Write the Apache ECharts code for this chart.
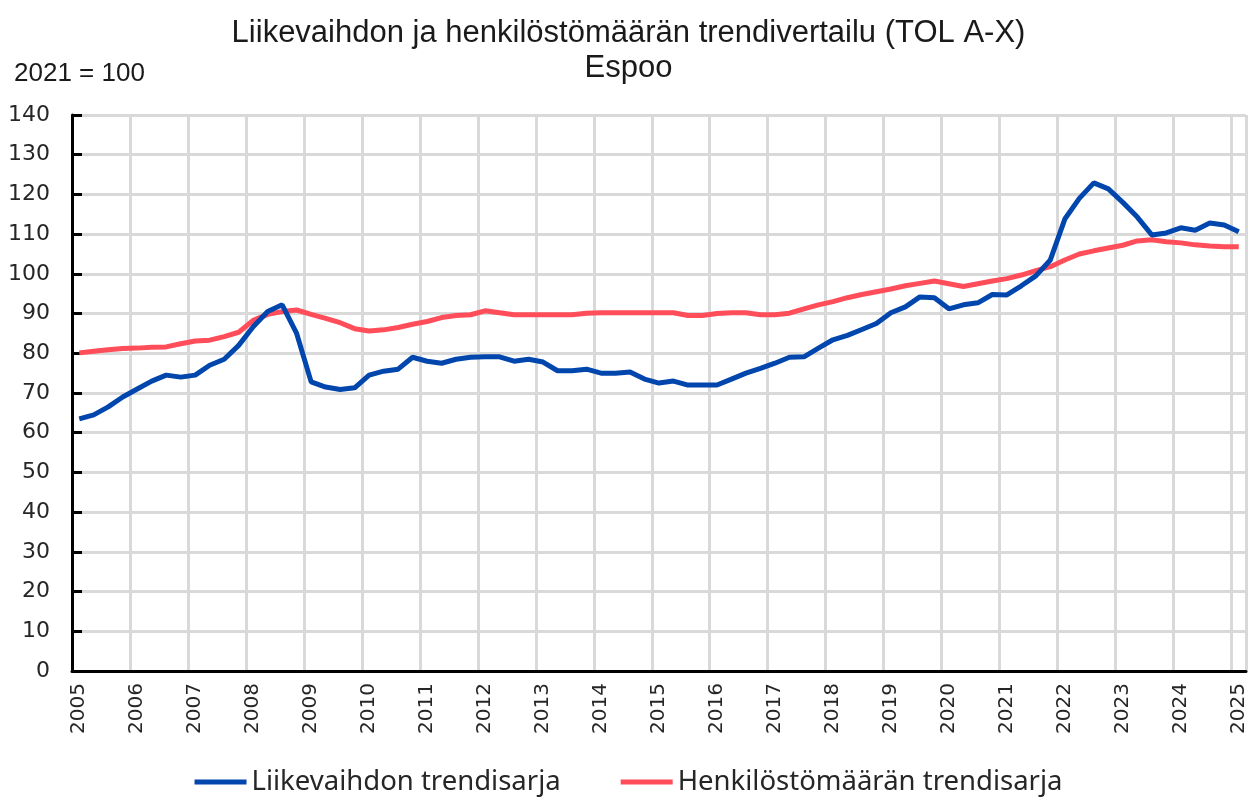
<!DOCTYPE html>
<html>
<head>
<meta charset="utf-8">
<script src="https://cdn.jsdelivr.net/npm/echarts@6/dist/echarts.min.js"></script>
<style>
    html, body { margin: 0; padding: 0; background: #fff; }
    #chart { width: 1257px; height: 801px; }
</style>
</head>
<body>
<div id="chart"></div>
<script>
// vuodet ja neljännekset 2005Q1 - 2025Q1
let years = []
for (let y = 2005; y <= 2025; y++) years.push(String(y))
let quarters = []
years.forEach(y => { ['Q1', 'Q2', 'Q3', 'Q4'].forEach(q => quarters.push(y + q)) })
quarters = quarters.slice(0, 81)

// Liikevaihdon trendisarja (2021 = 100)
let liikevaihto = [
    63.5, 64.5, 66.5, 69, 71, 73, 74.5, 74,
    74.5, 77, 78.5, 82, 86.7, 90.5, 92.2, 85,
    72.8, 71.5, 70.9, 71.3, 74.5, 75.5, 76, 79,
    78, 77.5, 78.5, 79, 79.1, 79.1, 78, 78.5,
    77.8, 75.6, 75.6, 76, 75, 75, 75.3, 73.5,
    72.5, 73, 72, 72, 72, 73.5, 75, 76.2,
    77.5, 79, 79.1, 81.3, 83.4, 84.5, 86, 87.5,
    90.2, 91.7, 94.2, 94, 91.2, 92.2, 92.7, 94.8,
    94.7, 97, 99.5, 103.5, 113.8, 119, 122.9, 121.4,
    118, 114.3, 109.8, 110.3, 111.6, 111, 112.8, 112.3,
    110.6
]
// Henkilöstömäärän trendisarja (2021 = 100)
let henkilosto = [
    80.1, 80.5, 80.9, 81.2, 81.3, 81.5, 81.6, 82.4,
    83.1, 83.3, 84.2, 85.3, 88.3, 89.8, 90.5, 90.9,
    89.8, 88.8, 87.7, 86.2, 85.6, 85.9, 86.5, 87.3,
    88, 89, 89.5, 89.7, 90.7, 90.2, 89.7, 89.7,
    89.7, 89.7, 89.7, 90.1, 90.2, 90.2, 90.2, 90.2,
    90.2, 90.2, 89.5, 89.5, 90, 90.2, 90.2, 89.7,
    89.7, 90.1, 91.2, 92.2, 93, 94, 94.8, 95.5,
    96.2, 97, 97.6, 98.2, 97.5, 96.8, 97.5, 98.2,
    98.8, 99.7, 100.8, 101.8, 103.5, 105, 105.8, 106.5,
    107.2, 108.3, 108.6, 108.1, 107.8, 107.3, 107, 106.8,
    106.8
]
let seriesNames = ['Liikevaihdon trendisarja', 'Henkilöstömäärän trendisarja']

let chart = echarts.init(document.getElementById('chart'))
let option = {
    animation: false,
    title: [{
        text: 'Liikevaihdon ja henkilöstömäärän trendivertailu (TOL A-X)\nEspoo',
        left: 'center',
        top: 11,
        textStyle: {
            fontFamily: 'Liberation Sans',
            fontWeight: 'normal',
            fontSize: 31,
            lineHeight: 35,
            color: '#1a1a1a'
        }
    }, {
        text: '2021 = 100',
        left: 9,
        top: 56,
        textStyle: {
            fontFamily: 'Liberation Sans',
            fontWeight: 'normal',
            fontSize: 26,
            color: '#1a1a1a'
        }
    }],
    legend: {
        bottom: 0,
        left: 'center',
        icon: 'rect',
        itemWidth: 52,
        itemHeight: 5,
        itemGap: 60,
        textStyle: {
            fontFamily: 'Noto Sans',
            fontSize: 27.5,
            color: '#262626'
        },
        data: seriesNames
    },
    grid: {
        left: 72,
        right: 11,
        top: 115,
        bottom: 130
    },
    xAxis: {
        type: 'category',
        data: quarters,
        boundaryGap: true,
        axisLine: { lineStyle: { color: '#000', width: 3 } },
        axisTick: { inside: true, length: 10, interval: 3, lineStyle: { color: '#000', width: 3 } },
        axisLabel: {
            interval: 3,
            rotate: 90,
            margin: 12,
            fontFamily: 'DejaVu Sans',
            fontSize: 20,
            color: '#262626',
            formatter: v => v.slice(0, 4)
        },
        splitLine: { show: true, interval: 3, lineStyle: { color: '#d9d9d9', width: 3 } }
    },
    yAxis: {
        type: 'value',
        min: 0,
        max: 140,
        interval: 10,
        axisLine: { show: true, lineStyle: { color: '#000', width: 3 } },
        axisTick: { show: true, inside: true, length: 10, lineStyle: { color: '#000', width: 3 } },
        axisLabel: {
            margin: 22,
            fontFamily: 'DejaVu Sans',
            fontSize: 22,
            color: '#262626'
        },
        splitLine: { lineStyle: { color: '#d9d9d9', width: 3 } }
    },
    series: [{
        name: seriesNames[0],
        type: 'line',
        data: liikevaihto,
        showSymbol: false,
        z: 3,
        lineStyle: { color: '#0046ad', width: 5 },
        itemStyle: { color: '#0046ad' }
    }, {
        name: seriesNames[1],
        type: 'line',
        data: henkilosto,
        showSymbol: false,
        z: 2,
        lineStyle: { color: '#ff4d5a', width: 5 },
        itemStyle: { color: '#ff4d5a' }
    }]
}
chart.setOption(option)
</script>
</body>
</html>
